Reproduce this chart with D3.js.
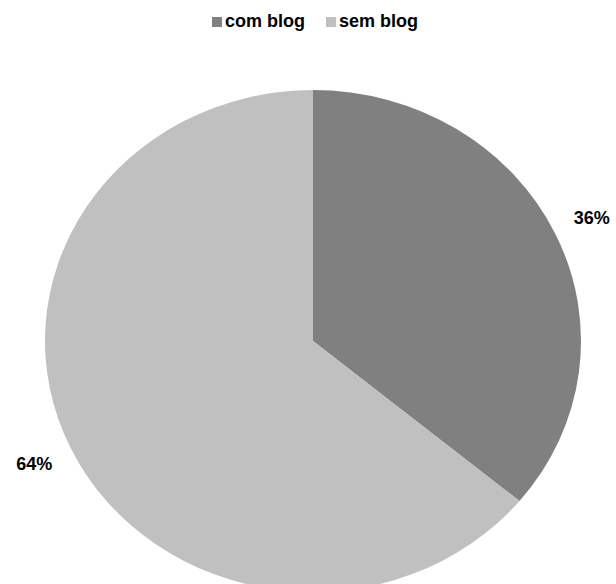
<!DOCTYPE html>
<html>
<head>
<meta charset="utf-8">
<script src="https://cdn.jsdelivr.net/npm/d3@7"></script>
<style>
  body { margin: 0; background: #fff; }
  text { font-family: "Liberation Sans", Arial, sans-serif; font-weight: bold; fill: #000; }
</style>
</head>
<body>
<svg class="chart"></svg>
<script>
// pie data
var categories = ["com blog", "sem blog"];
var values = [36, 64];
var labels = ["36%", "64%"];
var colors = ["#808080", "#c0c0c0"];

var width = 616;
var height = 584;

var chart = d3.select(".chart").attr("width", width).attr("height", height);

// pie is a bit squashed in the original, so draw a circle and scale y
var cx = 313, cy = 341;
var rx = 268, ry = 251;

var pie = d3.pie().sort(null).value(function(d) { return d; });
var arcs = pie(values);

var arc = d3.arc().innerRadius(0).outerRadius(rx);
var labelArc = d3.arc().innerRadius(rx * 1.15).outerRadius(rx * 1.15);

var g = chart.append("g")
  .attr("transform", "translate(" + cx + "," + cy + ")");

g.append("g")
  .attr("transform", "scale(1," + (ry / rx) + ")")
  .selectAll("path")
  .data(arcs)
  .enter().append("path")
  .attr("d", arc)
  .attr("fill", function(d, i) { return colors[i]; });

g.selectAll("text.lbl")
  .data(arcs)
  .enter().append("text")
  .attr("class", "lbl")
  .attr("x", function(d) { return labelArc.centroid(d)[0]; })
  .attr("y", function(d) { return labelArc.centroid(d)[1] * ry / rx; })
  .attr("dy", "0.35em")
  .attr("text-anchor", "middle")
  .style("font-size", "18px")
  .text(function(d, i) { return labels[i]; });

// legend on top
var legendX = [212, 326];
var legend = chart.selectAll("g.legend")
  .data(categories)
  .enter().append("g")
  .attr("class", "legend")
  .attr("transform", function(d, i) { return "translate(" + legendX[i] + ",17)"; });

legend.append("rect")
  .attr("width", 10)
  .attr("height", 10)
  .attr("fill", function(d, i) { return colors[i]; });

legend.append("text")
  .attr("x", 13)
  .attr("y", 10)
  .style("font-size", "18px")
  .text(function(d) { return d; });
</script>
</body>
</html>
